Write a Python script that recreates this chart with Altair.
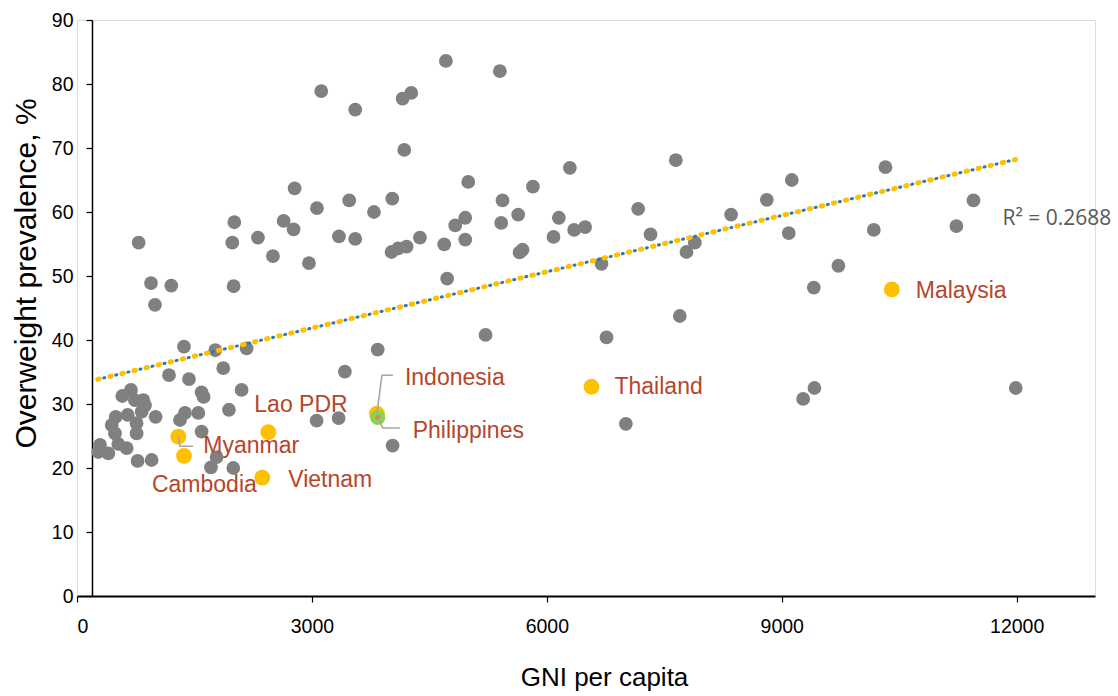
import altair as alt
import pandas as pd

# ---- data ----
gni = [4711, 3119, 3553, 4158, 4268, 4179, 4996, 2779, 3064, 3476,
       4026, 3792, 4958, 4830, 2639, 2766, 2009, 1983, 787, 2311,
       2502, 2962, 3345, 3553, 4017, 4102, 4209, 4379, 4689, 4958,
       4727, 945, 1204, 996, 2000, 5400, 7647, 9128, 8809, 8353,
       9089, 7166, 7324, 7890, 7783, 6698, 6294, 5822, 5434, 5417,
       5634, 6153, 6085, 6349, 6489, 5652, 5690, 9723, 9409, 7698,
       10324, 11448, 11230, 10175, 9417, 9273, 11988, 5217, 6762, 3840,
       7009, 4030, 3421, 3060, 3341, 2166, 1766, 1366, 1868, 1175,
       1430, 2102, 1591, 1617, 1940, 1379, 1549, 1315, 1591, 1783,
       1711, 1996, 689, 579, 868, 826, 1004, 647, 494, 443,
       761, 761, 485, 294, 272, 400, 634, 527, 774, 953,
       740, 847]
overweight = [83.6, 78.9, 76.0, 77.7, 78.6, 69.7, 64.7, 63.7, 60.6, 61.8,
              62.1, 60.0, 59.1, 57.9, 58.6, 57.3, 58.4, 55.2, 55.2, 56.0,
              53.1, 52.0, 56.2, 55.8, 53.75, 54.3, 54.6, 56.0, 54.95, 55.7,
              49.6, 48.9, 48.5, 45.5, 48.4, 82.0, 68.1, 65.0, 61.9, 59.6,
              56.7, 60.5, 56.5, 55.2, 53.75, 51.9, 66.9, 63.95, 61.8, 58.3,
              59.6, 59.1, 56.1, 57.2, 57.65, 53.7, 54.1, 51.6, 48.2, 43.75,
              67.0, 61.8, 57.8, 57.2, 32.5, 30.8, 32.5, 40.8, 40.4, 38.5,
              26.9, 23.5, 35.05, 27.4, 27.8, 38.7, 38.4, 38.95, 35.6, 34.5,
              33.9, 32.2, 31.8, 31.1, 29.1, 28.6, 28.6, 27.5, 25.7, 21.7,
              20.1, 20.0, 32.2, 31.25, 29.8, 28.8, 28.0, 28.3, 28.0, 26.7,
              27.0, 25.4, 25.4, 23.6, 22.5, 22.3, 23.1, 23.75, 21.1, 21.25,
              30.6, 30.6]

hl_country = ["Myanmar", "Cambodia", "Lao PDR", "Vietnam", "Indonesia", "Thailand", "Malaysia"]
hl_gni = [1294, 1366, 2443, 2366, 3830, 6570, 10405]
hl_ow = [24.9, 21.9, 25.6, 18.5, 28.5, 32.7, 47.9]

phl_country = ["Philippines"]
phl_gni = [3840]
phl_ow = [27.9]

trend_gni = [265, 11985]
trend_ow = [33.85, 68.2]
r2_text = ["R\u00b2 = 0.2688"]

leader_id = ["Myanmar"] * 3 + ["Indonesia"] * 3 + ["Philippines"] * 3
leader_seq = [0, 1, 2] * 3
leader_gni = [1294, 1315, 1481, 3830, 3894, 4034, 3840, 3906, 4124]
leader_ow = [24.9, 23.4, 23.4, 28.5, 34.5, 34.5, 27.9, 26.25, 26.25]

x_ticks = [0, 3000, 6000, 9000, 12000]
y_ticks = [0, 10, 20, 30, 40, 50, 60, 70, 80, 90]

# ---- styles ----
FONT = "Liberation Sans"
LABEL_COLOR = "#B5462B"
label_offsets = {
    "Malaysia": (24, 2), "Thailand": (23, 0), "Lao PDR": (-14, -27),
    "Myanmar": (25, 9), "Cambodia": (-32, 29), "Vietnam": (26, 2),
    "Indonesia": (28, -36), "Philippines": (35, 14),
}

pts = pd.DataFrame({"gni": gni, "ow": overweight})
hl = pd.DataFrame({"country": hl_country, "gni": hl_gni, "ow": hl_ow})
phl = pd.DataFrame({"country": phl_country, "gni": phl_gni, "ow": phl_ow})
trend = pd.DataFrame({"gni": trend_gni, "ow": trend_ow})
r2 = pd.DataFrame({"gni": [trend_gni[-1]], "ow": [trend_ow[-1]], "t": r2_text})
leaders = pd.DataFrame({"id": leader_id, "seq": leader_seq, "gni": leader_gni, "ow": leader_ow})
all_labels = pd.concat([hl, phl], ignore_index=True)

xs = alt.Scale(domain=[0, 13000], nice=False, zero=False)
ys = alt.Scale(domain=[0, 90], nice=False)

X = alt.X("gni:Q", scale=xs, axis=alt.Axis(
    values=x_ticks, title="GNI per capita", grid=False, format="d",
    domainColor="black", domainWidth=2, tickColor="black", tickWidth=1.2, tickSize=6,
    labelFont=FONT, labelFontSize=19.5, labelColor="black", labelPadding=15,
    titleFont=FONT, titleFontSize=26, titleFontWeight="normal", titleColor="black",
    titlePadding=29, titleX=527, titleAlign="center"))
Y = alt.Y("ow:Q", scale=ys, axis=alt.Axis(
    values=y_ticks, title="Overweight prevalence, %", grid=False, offset=-15,
    domainColor="black", domainWidth=1.5, tickColor="black", tickWidth=1.2, tickSize=6,
    labelFont=FONT, labelFontSize=19.5, labelColor="black", labelPadding=13,
    titleFont=FONT, titleFontSize=30, titleFontWeight="normal", titleColor="black",
    titlePadding=10, titleY=253, titleAlign="center"))

base_pts = alt.Chart(pts).mark_circle(size=190, color="#808080", opacity=1).encode(x=X, y=Y)

trend_blue = alt.Chart(trend).mark_line(
    color="#2E75B6", strokeWidth=3, strokeDash=[1, 5.2], strokeCap="round"
).encode(x=alt.X("gni:Q", scale=xs), y=alt.Y("ow:Q", scale=ys))
trend_yellow = alt.Chart(trend).mark_line(
    color="#FFC000", strokeWidth=5, strokeDash=[1.5, 10.9], strokeCap="round"
).encode(x=alt.X("gni:Q", scale=xs), y=alt.Y("ow:Q", scale=ys))

hl_pts = alt.Chart(hl).mark_circle(size=250, color="#FFC000", opacity=1).encode(
    x=alt.X("gni:Q", scale=xs), y=alt.Y("ow:Q", scale=ys))
phl_pts = alt.Chart(phl).mark_circle(size=235, color="#92D050", opacity=1).encode(
    x=alt.X("gni:Q", scale=xs), y=alt.Y("ow:Q", scale=ys))
phl_dot = alt.Chart(phl).mark_circle(size=22, color="#ED7D31", opacity=1).encode(
    x=alt.X("gni:Q", scale=xs), y=alt.Y("ow:Q", scale=ys))

leader_lines = alt.Chart(leaders).mark_line(color="#A6A6A6", strokeWidth=1.6).encode(
    x=alt.X("gni:Q", scale=xs), y=alt.Y("ow:Q", scale=ys),
    detail="id:N", order="seq:Q")

label_layers = []
for c, (dx, dy) in label_offsets.items():
    label_layers.append(
        alt.Chart(all_labels).transform_filter(alt.datum.country == c).mark_text(
            align="left", baseline="middle", dx=dx, dy=dy, font=FONT, fontSize=23,
            color=LABEL_COLOR
        ).encode(x=alt.X("gni:Q", scale=xs), y=alt.Y("ow:Q", scale=ys), text="country:N")
    )

r2_layer = alt.Chart(r2).mark_text(
    align="left", baseline="middle", dx=-13, dy=59, font="Open Sans", fontSize=21,
    color="#595959"
).encode(x=alt.X("gni:Q", scale=xs), y=alt.Y("ow:Q", scale=ys), text="t:N")

chart = alt.layer(
    base_pts, trend_blue, trend_yellow, hl_pts, phl_pts, phl_dot, leader_lines,
    *label_layers, r2_layer
).properties(
    width=1018, height=576,
    autosize=alt.AutoSizeParams(type="none"),
    padding={"left": 77, "top": 20, "right": 23, "bottom": 100},
).configure_view(stroke=None).configure(background="white")

chart.save("out.html", embed_options={"renderer": "svg", "actions": False})
